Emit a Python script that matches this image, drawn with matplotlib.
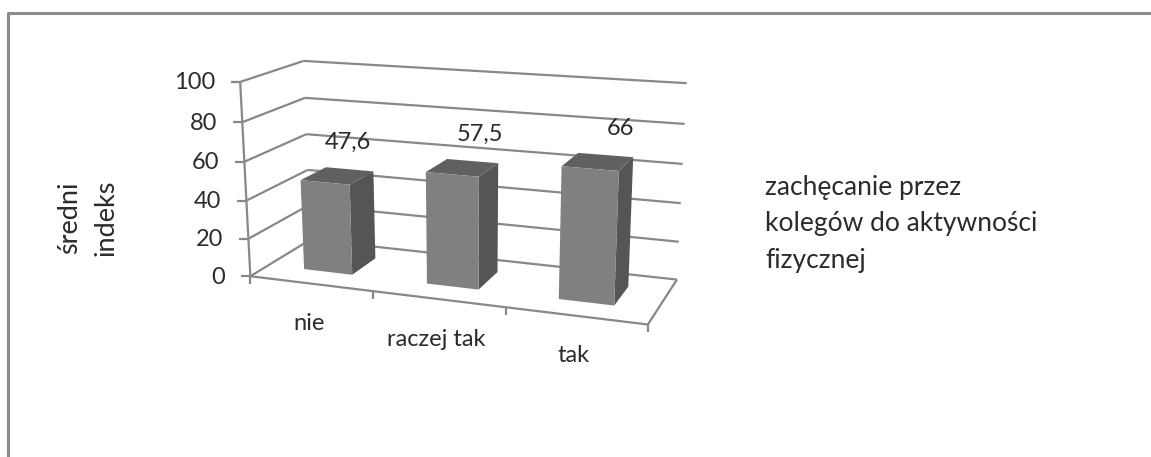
import matplotlib.pyplot as plt
from matplotlib.patches import Polygon
import numpy as np

# Chart data
categories = ['nie', 'raczej tak', 'tak']
values = [47.6, 57.5, 66]
value_labels = ['47,6', '57,5', '66']
y_ticks = [0, 20, 40, 60, 80, 100]
y_title = 'średni\nindeks'
side_note = 'zachęcanie przez\nkolegów do aktywności\nfizycznej'

# Box corners (category pos, depth, value) and where they land on the image
box_corners = [(0, 0, 0), (3, 0, 0), (0, 1, 0), (3, 1, 0), (0, 0, 100), (0, 1, 100), (3, 1, 100)]
image_corners = [(250, 276), (647.7, 325), (310.7, 240), (677, 279), (240.7, 81.7), (303, 61), (686.7, 83.3)]

# Bar footprint inside its category slot
bar_half_width = 0.2
depth_front = 0.29
depth_back = 0.72

# Label placement relative to the back right corner of each bar top
label_dx = [-25, -18, -13]
label_dy = -29

grid_color = '#888888'
text_color = '#2b2b2b'


def fit_projection(corners, targets):
    rows = []
    for (x, d, z), (u, v) in zip(corners, targets):
        rows.append([x, d, z, 1, 0, 0, 0, 0, -u * x, -u * d, -u * z, -u])
        rows.append([0, 0, 0, 0, x, d, z, 1, -v * x, -v * d, -v * z, -v])
    return np.linalg.svd(np.array(rows, dtype=float))[2][-1].reshape(3, 4)


P = fit_projection(box_corners, image_corners)


def project(x, d, z):
    u, v, w = P @ np.array([x, d, z, 1.0])
    return u / w, v / w


plt.rcParams['font.family'] = ['Lato', 'DejaVu Sans']
fig = plt.figure(figsize=(11.51, 4.57), dpi=100)
ax = fig.add_axes([0, 0, 1, 1])
ax.set_xlim(0, 1151)
ax.set_ylim(457, 0)
ax.axis('off')

# Frame of the pasted picture (top and left only)
ax.plot([1151, 8.5, 8.5], [12.5, 12.5, 457], color='#8c8c8c', lw=2.2)


def line(a, b, lw=1.6):
    ax.plot([a[0], b[0]], [a[1], b[1]], color=grid_color, lw=lw, solid_capstyle='butt', zorder=1)


# Walls and gridlines
for t in y_ticks:
    line(project(0, 0, t), project(0, 1, t))
    line(project(0, 1, t), project(3, 1, t))
    u, v = project(0, 0, t)
    line((u - 9, v), (u, v))
    ax.text(u - 25, v + 1, str(t), ha='right', va='center', fontsize=17, color=text_color)

# Floor and axes
line(project(0, 0, 0), project(0, 0, 100))
line(project(0, 0, 0), project(3, 0, 0))
line(project(3, 0, 0), project(3, 1, 0))
for i in range(len(categories) + 1):
    u, v = project(i, 0, 0)
    line((u, v), (u, v + 8))

# Bars
for i, val in enumerate(values):
    x0 = i + 0.5 - bar_half_width
    x1 = i + 0.5 + bar_half_width
    front = [project(x0, depth_front, 0), project(x1, depth_front, 0),
             project(x1, depth_front, val), project(x0, depth_front, val)]
    side = [project(x1, depth_front, 0), project(x1, depth_back, 0),
            project(x1, depth_back, val), project(x1, depth_front, val)]
    top = [project(x0, depth_front, val), project(x1, depth_front, val),
           project(x1, depth_back, val), project(x0, depth_back, val)]
    ax.add_patch(Polygon(side, facecolor='#555555', edgecolor='none', zorder=2))
    ax.add_patch(Polygon(top, facecolor='#606060', edgecolor='none', zorder=2))
    ax.add_patch(Polygon(front, facecolor='#808080', edgecolor='none', zorder=3))

    u, v = project(x1, depth_back, val)
    ax.text(u + label_dx[i], v + label_dy, value_labels[i], ha='center', va='center',
            fontsize=17, color=text_color, zorder=4)

    u, v = project(i + 0.5, 0, 0)
    ax.text(u - 2, v + 40, categories[i], ha='center', va='center', fontsize=17, color=text_color)

ax.text(88, 218, y_title, rotation=90, ha='center', va='center', fontsize=19.5, color=text_color, linespacing=1.57)
ax.text(765, 224, side_note, ha='left', va='center', fontsize=19, color=text_color, linespacing=1.57)

fig.savefig('out.png', dpi=100)
